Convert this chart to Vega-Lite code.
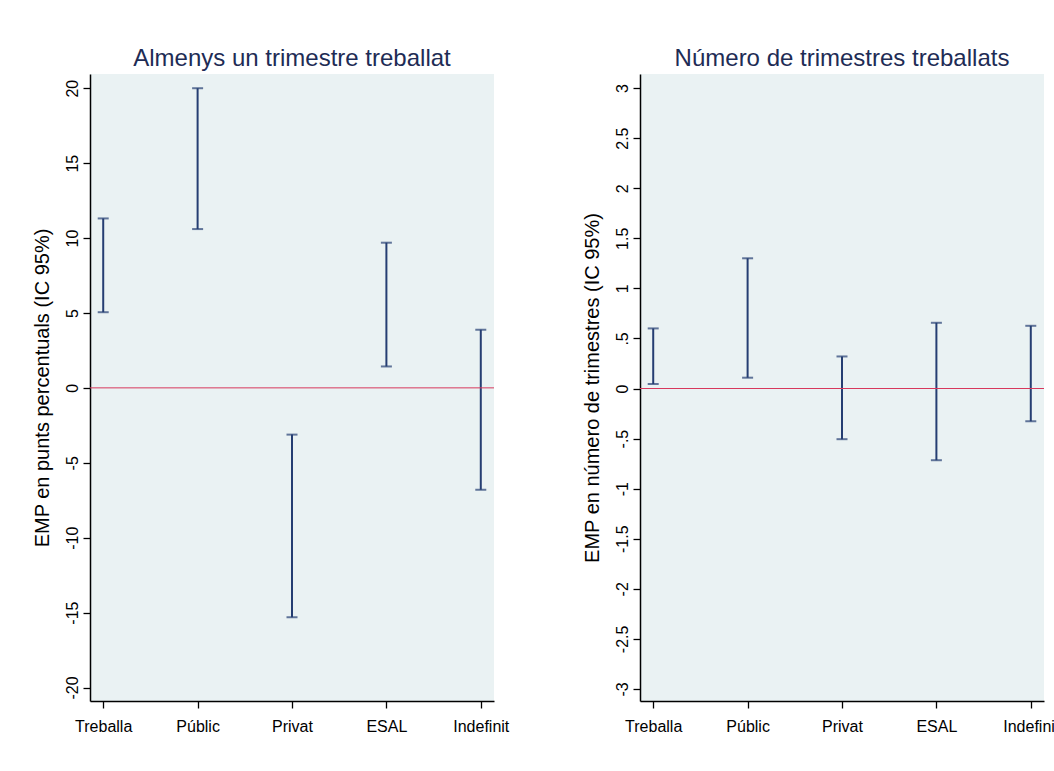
{
  "$schema": "https://vega.github.io/schema/vega-lite/v6.json",
  "background": "white",
  "padding": {"left": 32, "top": 47, "right": 0, "bottom": 0},
  "spacing": 73,
  "config": {
    "font": "Liberation Sans",
    "view": {"fill": "#eaf2f3", "stroke": null},
    "axis": {
      "domainColor": "#000000", "domainWidth": 1.5,
      "tickColor": "#000000", "tickSize": 7, "tickWidth": 1.3,
      "labelColor": "#000000", "labelFont": "Liberation Sans", "labelFontSize": 16,
      "titleFont": "Liberation Sans", "titleFontSize": 20, "titleColor": "#000000", "titleFontWeight": "normal",
      "grid": false
    },
    "axisY": {"labelAngle": -90, "labelAlign": "center", "labelBaseline": "alphabetic", "labelPadding": 6, "titlePadding": 12},
    "axisX": {"labelAngle": 0, "labelPadding": 10},
    "title": {"font": "Liberation Sans", "fontSize": 24, "fontWeight": "normal", "color": "#1e2c55", "offset": 3}
  },
  "datasets": {
    "left": [
      {"cat": "Treballa", "lo": 5.05, "hi": 11.31},
      {"cat": "Públic", "lo": 10.6, "hi": 20.0},
      {"cat": "Privat", "lo": -15.31, "hi": -3.12},
      {"cat": "ESAL", "lo": 1.43, "hi": 9.69},
      {"cat": "Indefinit", "lo": -6.8, "hi": 3.88}
    ],
    "right": [
      {"cat": "Treballa", "lo": 0.045, "hi": 0.6},
      {"cat": "Públic", "lo": 0.108, "hi": 1.3},
      {"cat": "Privat", "lo": -0.506, "hi": 0.32},
      {"cat": "ESAL", "lo": -0.716, "hi": 0.656},
      {"cat": "Indefinit", "lo": -0.327, "hi": 0.626}
    ],
    "zeroL": [{"ref": 0}],
    "zeroR": [{"refr": 0}]
  },
  "hconcat": [
    {
      "width": 404,
      "height": 627,
      "title": "Almenys un trimestre treballat",
      "layer": [
        {
          "data": {"name": "left"},
          "mark": {"type": "rule", "color": "#253e72", "strokeWidth": 2},
          "encoding": {
            "x": {"field": "cat", "type": "nominal", "sort": null, "scale": {"type": "point", "padding": 0.14}, "axis": {"title": null}},
            "y": {"field": "lo", "type": "quantitative", "title": "EMP en punts percentuals (IC 95%)",
                  "scale": {"domain": [-20.9, 20.95], "nice": false, "zero": false},
                  "axis": {"values": [-20, -15, -10, -5, 0, 5, 10, 15, 20], "labelExpr": "datum.value + ''"}},
            "y2": {"field": "hi"}
          }
        },
        {
          "data": {"name": "left"},
          "mark": {"type": "tick", "color": "#253e72", "thickness": 2, "size": 11},
          "encoding": {
            "x": {"field": "cat", "type": "nominal", "sort": null},
            "y": {"field": "lo", "type": "quantitative", "title": "EMP en punts percentuals (IC 95%)"}
          }
        },
        {
          "data": {"name": "left"},
          "mark": {"type": "tick", "color": "#253e72", "thickness": 2, "size": 11},
          "encoding": {
            "x": {"field": "cat", "type": "nominal", "sort": null},
            "y": {"field": "hi", "type": "quantitative", "title": "EMP en punts percentuals (IC 95%)"}
          }
        },
        {
          "data": {"name": "zeroL"},
          "mark": {"type": "rule", "color": "#d7385c", "strokeWidth": 1},
          "encoding": {
            "y": {"field": "ref", "type": "quantitative", "title": "EMP en punts percentuals (IC 95%)"}
          }
        }
      ]
    },
    {
      "width": 404,
      "height": 627,
      "title": "Número de trimestres treballats",
      "layer": [
        {
          "data": {"name": "right"},
          "mark": {"type": "rule", "color": "#253e72", "strokeWidth": 2},
          "encoding": {
            "x": {"field": "cat", "type": "nominal", "sort": null, "scale": {"type": "point", "padding": 0.14}, "axis": {"title": null}},
            "y": {"field": "lo", "type": "quantitative", "title": "EMP en número de trimestres (IC 95%)",
                  "scale": {"domain": [-3.12, 3.14], "nice": false, "zero": false},
                  "axis": {"values": [-3, -2.5, -2, -1.5, -1, -0.5, 0, 0.5, 1, 1.5, 2, 2.5, 3],
                           "labelExpr": "datum.value == 0.5 ? '.5' : datum.value == -0.5 ? '-.5' : datum.value + ''"}},
            "y2": {"field": "hi"}
          }
        },
        {
          "data": {"name": "right"},
          "mark": {"type": "tick", "color": "#253e72", "thickness": 2, "size": 11},
          "encoding": {
            "x": {"field": "cat", "type": "nominal", "sort": null},
            "y": {"field": "lo", "type": "quantitative", "title": "EMP en número de trimestres (IC 95%)"}
          }
        },
        {
          "data": {"name": "right"},
          "mark": {"type": "tick", "color": "#253e72", "thickness": 2, "size": 11},
          "encoding": {
            "x": {"field": "cat", "type": "nominal", "sort": null},
            "y": {"field": "hi", "type": "quantitative", "title": "EMP en número de trimestres (IC 95%)"}
          }
        },
        {
          "data": {"name": "zeroR"},
          "mark": {"type": "rule", "color": "#d7385c", "strokeWidth": 1},
          "encoding": {
            "y": {"field": "refr", "type": "quantitative", "title": "EMP en número de trimestres (IC 95%)"}
          }
        }
      ]
    }
  ]
}
